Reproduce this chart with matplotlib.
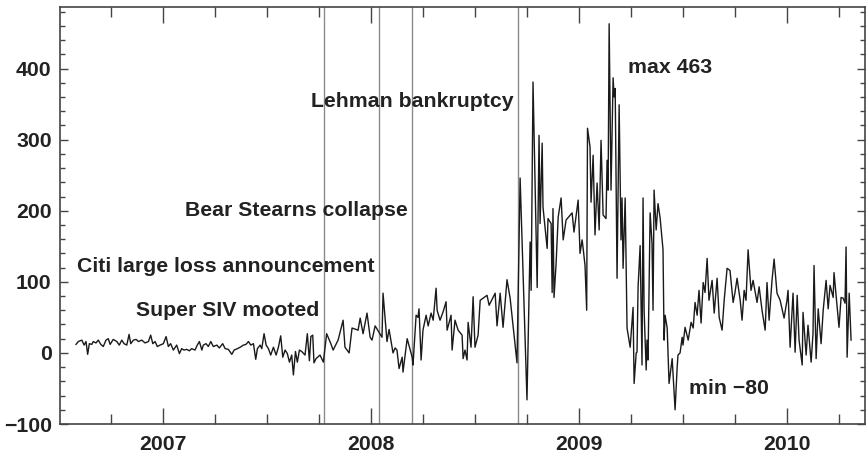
"""Spread series 2006-2010 with crisis event markers -> out.png"""
import matplotlib.pyplot as plt
from matplotlib.ticker import MultipleLocator

# time in fractional years
t_year = [
    2006.583, 2006.594, 2006.611, 2006.622, 2006.631, 2006.639, 2006.647, 2006.659,
    2006.666, 2006.679, 2006.690, 2006.702, 2006.714, 2006.727, 2006.738, 2006.747,
    2006.762, 2006.779, 2006.791, 2006.803, 2006.814, 2006.827, 2006.838, 2006.846,
    2006.859, 2006.872, 2006.883, 2006.899, 2006.915, 2006.931, 2006.942, 2006.952,
    2006.963, 2006.974, 2006.987, 2007.003, 2007.016, 2007.027, 2007.038, 2007.051,
    2007.067, 2007.080, 2007.091, 2007.102, 2007.115, 2007.128, 2007.139, 2007.155,
    2007.166, 2007.176, 2007.188, 2007.195, 2007.208, 2007.219, 2007.231, 2007.243,
    2007.260, 2007.272, 2007.288, 2007.300, 2007.315, 2007.332, 2007.343, 2007.359,
    2007.372, 2007.388, 2007.400, 2007.412, 2007.423, 2007.436, 2007.447, 2007.455,
    2007.468, 2007.476, 2007.487, 2007.497, 2007.508, 2007.519, 2007.532, 2007.545,
    2007.556, 2007.567, 2007.577, 2007.588, 2007.599, 2007.609, 2007.620, 2007.628,
    2007.638, 2007.647, 2007.657, 2007.668, 2007.684, 2007.695, 2007.705, 2007.712,
    2007.721, 2007.727, 2007.737, 2007.756, 2007.772, 2007.788, 2007.808, 2007.819,
    2007.843, 2007.867, 2007.876, 2007.896, 2007.910, 2007.939, 2007.949, 2007.963,
    2007.982, 2007.997, 2008.006, 2008.021, 2008.054, 2008.059, 2008.078, 2008.088,
    2008.107, 2008.117, 2008.126, 2008.136, 2008.151, 2008.155, 2008.175, 2008.199,
    2008.203, 2008.218, 2008.227, 2008.232, 2008.242, 2008.251, 2008.266, 2008.276,
    2008.290, 2008.300, 2008.314, 2008.319, 2008.333, 2008.348, 2008.362, 2008.367,
    2008.386, 2008.391, 2008.405, 2008.420, 2008.439, 2008.444, 2008.453, 2008.463,
    2008.468, 2008.482, 2008.492, 2008.501, 2008.516, 2008.526, 2008.559, 2008.569,
    2008.598, 2008.607, 2008.622, 2008.636, 2008.655, 2008.670, 2008.703, 2008.718,
    2008.751, 2008.766, 2008.771, 2008.780, 2008.800, 2008.809, 2008.814, 2008.824,
    2008.828, 2008.848, 2008.852, 2008.867, 2008.872, 2008.876, 2008.881, 2008.891,
    2008.901, 2008.915, 2008.925, 2008.939, 2008.968, 2008.977, 2008.997, 2009.006,
    2009.016, 2009.021, 2009.030, 2009.038, 2009.042, 2009.054, 2009.059, 2009.069,
    2009.078, 2009.088, 2009.098, 2009.107, 2009.117, 2009.131, 2009.136, 2009.141,
    2009.146, 2009.155, 2009.165, 2009.170, 2009.175, 2009.184, 2009.194, 2009.203,
    2009.208, 2009.213, 2009.223, 2009.232, 2009.247, 2009.261, 2009.266, 2009.276,
    2009.280, 2009.285, 2009.295, 2009.304, 2009.309, 2009.314, 2009.324, 2009.328,
    2009.333, 2009.343, 2009.352, 2009.357, 2009.362, 2009.372, 2009.381, 2009.391,
    2009.405, 2009.410, 2009.415, 2009.425, 2009.434, 2009.449, 2009.463, 2009.473,
    2009.477, 2009.487, 2009.497, 2009.501, 2009.511, 2009.526, 2009.540, 2009.550,
    2009.559, 2009.569, 2009.578, 2009.588, 2009.598, 2009.607, 2009.617, 2009.626,
    2009.641, 2009.651, 2009.665, 2009.675, 2009.689, 2009.699, 2009.713, 2009.727,
    2009.742, 2009.751, 2009.761, 2009.776, 2009.785, 2009.795, 2009.804, 2009.814,
    2009.828, 2009.838, 2009.857, 2009.867, 2009.881, 2009.896, 2009.905, 2009.915,
    2009.929, 2009.939, 2009.953, 2009.968, 2009.987, 2010.001, 2010.006, 2010.016,
    2010.030, 2010.040, 2010.050, 2010.059, 2010.074, 2010.078, 2010.093, 2010.102,
    2010.117, 2010.126, 2010.131, 2010.141, 2010.151, 2010.165, 2010.175, 2010.189,
    2010.199, 2010.208, 2010.223, 2010.227, 2010.242, 2010.251, 2010.261, 2010.271,
    2010.280, 2010.285, 2010.290, 2010.300, 2010.309,
]
spread = [
    12, 16, 18, 11, 16, -2, 13, 12,
    16, 14, 18, 12, 9, 18, 20, 12,
    19, 16, 11, 18, 13, 11, 26, 13,
    18, 19, 16, 18, 14, 16, 25, 13,
    16, 9, 11, 13, 23, 9, 13, 4,
    11, -1, 6, 4, 5, 3, 6, 4,
    11, 16, 4, 11, 13, 9, 16, 9,
    11, 7, 13, 6, 5, -2, 4, 6,
    8, 11, 12, 16, 11, 13, -9, 6,
    11, 6, 27, 11, 6, -3, 8, -3,
    8, 24, -6, 4, -1, -13, -3, -31,
    2, -13, 4, 2, -3, 27, -11, 23,
    25, -14, -8, -3, -13, 27, 13, 4,
    18, 46, 8, 0, 35, 32, 49, 27,
    56, 22, 18, 38, 22, 84, 16, 33,
    0, 7, 4, -22, -6, -27, 20, -6,
    -17, 53, 50, 62, -10, 32, 53, 38,
    56, 46, 91, 60, 46, 58, 72, 32,
    53, 4, 46, 32, 25, -8, 4, -10,
    43, 8, 79, 8, 25, 74, 81, 67,
    84, 38, 84, 36, 103, 77, -14, 246,
    -66, 156, 88, 381, 92, 306, 182, 295,
    205, 147, 189, 182, 85, 203, 78, 126,
    191, 218, 159, 187, 197, 170, 215, 140,
    159, 147, 123, 60, 316, 290, 212, 278,
    166, 239, 173, 299, 194, 189, 271, 229,
    463, 229, 387, 360, 372, 105, 349, 159,
    218, 119, 218, 35, 8, 64, -43, 0,
    1, 92, 151, -17, 218, 60, -24, 18,
    -10, 197, 154, 60, 229, 173, 210, 190,
    145, 18, 53, 35, -43, -8, -80, -20,
    -3, 0, 22, 11, 36, 18, 43, 35,
    71, 53, 88, 42, 99, 85, 133, 74,
    102, 56, 105, 50, 32, 74, 119, 116,
    71, 85, 105, 74, 46, 88, 74, 145,
    88, 102, 71, 93, 60, 32, 99, 46,
    102, 132, 84, 74, 49, 74, 88, 8,
    84, 1, 81, 18, -17, 57, -3, 39,
    -13, 27, 123, -8, 62, 13, 60, 102,
    62, 95, 78, 113, 64, 36, 78, 77,
    70, 149, -6, 84, 18,
]

event_names = ["Super SIV mooted", "Citi large loss announcement",
               "Bear Stearns collapse", "Lehman bankruptcy"]
event_t = [2007.776, 2008.040, 2008.200, 2008.707]
label_y = [60, 122, 200, 353]

years = [2007, 2008, 2009, 2010]


def main():
    plt.rcParams["font.family"] = ["Liberation Sans", "DejaVu Sans"]
    plt.rcParams["font.weight"] = "bold"
    ink = "#222222"
    fs = 15.3

    fig = plt.figure(figsize=(8.66, 4.55), dpi=100)
    ax = fig.add_axes([60 / 866, 31 / 455, 805 / 866, 417.3 / 455])

    for t in event_t:
        ax.axvline(t, color="#8a8a8a", lw=1.0, zorder=1)
    ax.plot(t_year, spread, color="#1a1a1a", lw=1.0, zorder=2)

    for name, t, y in zip(event_names, event_t, label_y):
        ax.text(t - 0.022, y, name, ha="right", va="center",
                fontsize=fs, fontweight="bold", color=ink)

    imax = spread.index(max(spread))
    imin = spread.index(min(spread))
    ax.text(t_year[imax] + 0.092, 401, f"max {spread[imax]}", ha="left",
            va="center", fontsize=fs, fontweight="bold", color=ink)
    ax.text(t_year[imin] + 0.069, -50, f"min \u2212{abs(spread[imin])}", ha="left",
            va="center", fontsize=fs, fontweight="bold", color=ink)

    ax.set_xlim(2006.506, 2010.376)
    ax.set_ylim(-100, 487)
    ax.set_xticks(years)
    ax.set_xticklabels([str(y) for y in years])
    ax.xaxis.set_minor_locator(MultipleLocator(0.25))
    ax.yaxis.set_major_locator(MultipleLocator(100))
    ax.yaxis.set_minor_locator(MultipleLocator(20))

    ax.tick_params(axis="x", which="major", direction="in", length=11.5, width=1.0,
                   top=True, pad=8, labelsize=fs, colors="#444444", labelcolor=ink)
    ax.tick_params(axis="x", which="minor", direction="in", length=7, width=1.0,
                   top=True, colors="#444444")
    ax.tick_params(axis="y", which="major", direction="in", length=6, width=1.0,
                   right=True, pad=6, labelsize=fs, colors="#444444", labelcolor=ink)
    ax.tick_params(axis="y", which="minor", direction="in", length=3.5, width=1.0,
                   right=True, colors="#444444")
    for lab in ax.get_xticklabels() + ax.get_yticklabels():
        lab.set_fontweight("bold")
    for sp in ax.spines.values():
        sp.set_color("#444444")
        sp.set_linewidth(1.2)

    fig.savefig("out.png", dpi=100)
    plt.close(fig)


if __name__ == "__main__":
    main()
